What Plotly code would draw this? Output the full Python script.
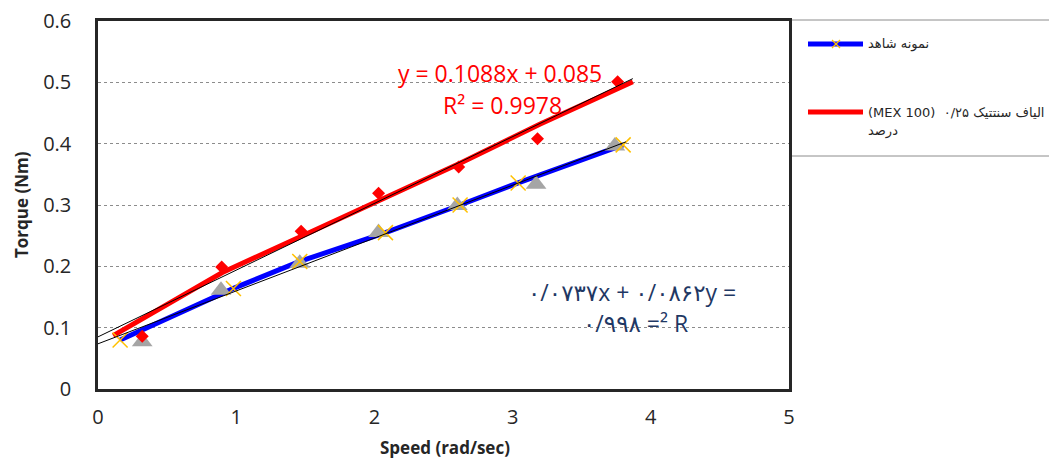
import plotly.graph_objects as go

# ---------------- data ----------------
# red smoothed line (MEX 100 series)
red_line_x = [0.11, 0.90, 1.50, 2.05, 2.62, 3.20, 3.87]
red_line_y = [0.087, 0.190, 0.252, 0.310, 0.368, 0.432, 0.501]

# blue line with orange X markers (control sample)
blue_x = [0.16, 0.98, 1.46, 2.08, 2.62, 3.04, 3.80]
blue_y = [0.080, 0.164, 0.208, 0.255, 0.300, 0.336, 0.398]

# grey triangles
tri_x = [0.32, 0.89, 1.46, 2.03, 2.60, 3.17, 3.74]
tri_y = [0.077, 0.161, 0.205, 0.255, 0.299, 0.334, 0.396]

# red diamonds
dia_x = [0.32, 0.895, 1.47, 2.03, 2.61, 3.18, 3.76]
dia_y = [0.086, 0.199, 0.257, 0.319, 0.362, 0.408, 0.501]

# trendlines (slope, intercept, x-extent)
red_trend = dict(slope=0.1088, intercept=0.085, x=[0.0, 3.87])
blue_trend = dict(slope=0.0862, intercept=0.0737, x=[0.0, 3.82])

x_ticks = [0, 1, 2, 3, 4, 5]
y_ticks = [0, 0.1, 0.2, 0.3, 0.4, 0.5, 0.6]

legend_labels = ["نمونه شاهد", "\u202bالیاف سنتتیک ۰/۲۵  (MEX 100)\u202c", "\u202bدرصد\u202c"]
red_eq = ["y = 0.1088x + 0.085", "R² = 0.9978"]
blue_eq = ["۰/۰۷۳۷x + ۰/۰۸۶۲y =", "۰/۹۹۸ =² R"]

# ---------------- figure ----------------
fig = go.Figure()

fig.add_trace(go.Scatter(x=red_line_x, y=red_line_y, mode="lines",
                         line=dict(color="#FF0000", width=5), showlegend=False))
fig.add_trace(go.Scatter(x=blue_x, y=blue_y, mode="lines",
                         line=dict(color="#0000FF", width=5), showlegend=False))
fig.add_trace(go.Scatter(x=tri_x, y=tri_y, mode="markers",
                         marker=dict(symbol="triangle-up", size=18, color="#A5A5A5"),
                         showlegend=False))
fig.add_trace(go.Scatter(x=dia_x, y=dia_y, mode="markers",
                         marker=dict(symbol="diamond", size=10, color="#FF0000"),
                         showlegend=False))
fig.add_trace(go.Scatter(x=blue_x, y=blue_y, mode="markers",
                         marker=dict(symbol="x-thin", size=15,
                                     line=dict(color="#FFC000", width=1.5)),
                         showlegend=False))
for tr in (red_trend, blue_trend):
    ys = [tr["slope"] * v + tr["intercept"] for v in tr["x"]]
    fig.add_trace(go.Scatter(x=tr["x"], y=ys, mode="lines",
                             line=dict(color="#000000", width=1), showlegend=False))

FONT = "Open Sans, DejaVu Sans, sans-serif"

fig.update_xaxes(range=[0, 5], tickvals=x_ticks, showgrid=False, zeroline=False,
                 showline=True, mirror=True, linecolor="#262626", linewidth=2.5,
                 ticks="", ticklabelstandoff=8, ticklabeloverflow="allow",
                 tickfont=dict(family=FONT, size=20, color="#262626"))
fig.update_yaxes(range=[0, 0.6], tickvals=y_ticks, showgrid=True, gridcolor="#8C8C8C",
                 griddash="dot", gridwidth=1, zeroline=False,
                 showline=True, mirror=True, linecolor="#262626", linewidth=2.5,
                 ticks="", ticklabelstandoff=20, ticklabeloverflow="allow",
                 tickfont=dict(family=FONT, size=20, color="#262626"))

# the page adds an 8px body margin; reference pixel positions are measured on screen
OFF = 8
PL, PT, PW, PH = 98, 21, 691, 368   # plot area on screen


def px2paper(px, py):
    return (px - PL) / float(PW), (PT + PH - py) / float(PH)


def ann(text, px, py, size, color, family=FONT, xanchor="center", angle=0):
    ax, ay = px2paper(px, py)
    return dict(text=text, x=ax, y=ay, xref="paper", yref="paper", showarrow=False,
                xanchor=xanchor, yanchor="middle", textangle=angle,
                font=dict(family=family, size=size, color=color))


annotations = []
annotations.append(ann("<b>Speed (rad/sec)</b>", 445, 447, 17, "#262626"))
annotations.append(ann("<b>Torque (Nm)</b>", 21, 205, 17, "#262626", angle=-90))
for txt, (px, py) in zip(red_eq, [(500, 73), (502, 105)]):
    annotations.append(ann(txt, px, py, 23, "#FF0000"))
for txt, (px, py) in zip(blue_eq, [(632, 292), (635, 323)]):
    annotations.append(ann(txt, px, py, 23, "#1F3864"))
for txt, (px, py) in zip(legend_labels, [(866, 44), (866, 112), (866, 131)]):
    annotations.append(ann(txt, px, py, 13, "#262626", family="DejaVu Sans, sans-serif",
                           xanchor="left"))

shapes = []
x0, y0 = px2paper(791, 156)
x1, y1 = px2paper(1056, 20)
shapes.append(dict(type="rect", xref="paper", yref="paper", x0=x0, y0=y0, x1=x1, y1=y1,
                   line=dict(color="#8C8C8C", width=1), fillcolor="white", layer="below"))
for color, py in [("#0000FF", 44), ("#FF0000", 112)]:
    a0, b0 = px2paper(808, py)
    a1, b1 = px2paper(863, py)
    shapes.append(dict(type="line", xref="paper", yref="paper", x0=a0, y0=b0, x1=a1, y1=b1,
                       line=dict(color=color, width=5)))
for (p0, p1) in [((832, 40), (840, 48)), ((832, 48), (840, 40))]:
    a0, b0 = px2paper(*p0)
    a1, b1 = px2paper(*p1)
    shapes.append(dict(type="line", xref="paper", yref="paper", x0=a0, y0=b0, x1=a1, y1=b1,
                       line=dict(color="#FFC000", width=1.2)))

W, H = 1057, 459
fig.update_layout(width=W, height=H,
                  margin=dict(l=PL - OFF, r=W - (PL - OFF) - PW, t=PT - OFF,
                              b=H - (PT - OFF) - PH, autoexpand=False),
                  plot_bgcolor="white", paper_bgcolor="white", showlegend=False,
                  annotations=annotations, shapes=shapes)

fig.write_html("out.html")
